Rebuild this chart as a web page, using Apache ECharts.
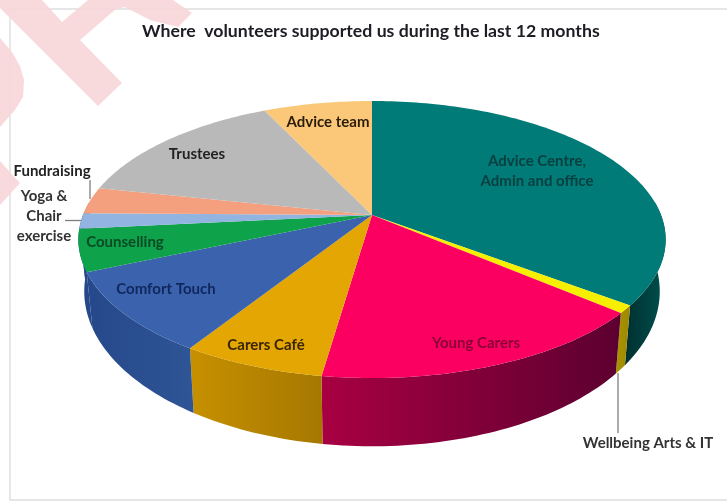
<!DOCTYPE html>
<html>
<head>
<meta charset="utf-8">
<style>html,body{margin:0;padding:0;background:#fff}#c{width:727px;height:502px;filter:blur(0.45px)}</style>
<script src="https://cdn.jsdelivr.net/npm/echarts@6/dist/echarts.min.js"></script>
</head>
<body>
<div id="c"></div>
<script>
var categories = ['Advice Centre, Admin and office','Wellbeing Arts & IT','Young Carers','Carers Café','Comfort Touch','Counselling','Yoga & Chair exercise','Fundraising','Trustees','Advice team'];
var values = [35.3,0.9,16.1,6.7,9.5,4.9,1.8,3.1,14.6,7.1];
var topColors = ['#007b77','#f6f000','#fb0060','#e3a602','#3a62ad','#0ea24a','#92b4e0','#f4a07e','#b9b9b9','#fac878'];
var wallLeft = ['#003030','#a89400','#a80042','#c69000','#25488a','#25488a','#25488a','#b87a60','#8a8a8a','#b89458'];
var wallRight = ['#00504e','#a08800','#5c0030','#a67800','#2f5597','#25488a','#25488a','#b87a60','#8a8a8a','#b89458'];

var total = values.reduce(function(a,b){return a+b;},0);
var cum = [0];
values.forEach(function(v,i){cum.push(cum[i]+v/total*Math.PI*2);});

// perspective model of the pie disc
var CX=372, CY=215, A=289, B=134.2, P=0.177, SHRINK=0.98, BOT_Y=49, BOT_B=150;
function topPt(t){var u=Math.sin(t),v=-Math.cos(t),w=1-P*v;return [CX+A*u/w,CY+B*v/w];}
function botPt(t){var u=Math.sin(t),v=-Math.cos(t),w=1-P*v;return [CX+SHRINK*A*u/w,CY+BOT_Y+BOT_B*v/w];}
function arc(fn,a,b){var n=Math.max(2,Math.ceil((b-a)/0.02)),o=[];for(var i=0;i<=n;i++)o.push(fn(a+(b-a)*i/n));return o;}

function renderWall(params){
  var i=params.dataIndex, lo=Math.PI*0.47, hi=Math.PI*1.53;
  var a=Math.max(cum[i],lo), b=Math.min(cum[i+1],hi);
  if(b<=a) return null;
  var pts=arc(topPt,a,b).concat(arc(botPt,a,b).reverse());
  var xs=pts.map(function(p){return p[0];});
  return {type:'polygon',shape:{points:pts},style:{
    fill:{type:'linear',x:Math.min.apply(null,xs),y:0,x2:Math.max.apply(null,xs),y2:0,global:true,
      colorStops:[{offset:0,color:wallLeft[i]},{offset:1,color:wallRight[i]}]}}};
}
function renderTop(params){
  var i=params.dataIndex;
  var pts=[[CX,CY]].concat(arc(topPt,cum[i],cum[i+1]));
  return {type:'polygon',shape:{points:pts},style:{fill:topColors[i]}};
}
function label(text,x,y,color,size){
  return {type:'text',z:20,silent:true,style:{text:text,x:x,y:y,align:'center',verticalAlign:'middle',textAlign:'center',textVerticalAlign:'middle',
    font:'bold '+(size||15)+'px Lato',fill:color,lineHeight:20}};
}
function leader(x1,y1,x2,y2){return {type:'line',z:19,silent:true,shape:{x1:x1,y1:y1,x2:x2,y2:y2},style:{stroke:'#7f7f7f',lineWidth:1.3}};}
var pink='#f9d7d9';
var chart=echarts.init(document.getElementById('c'));
chart.setOption({
  animation:false,
  backgroundColor:'#ffffff',
  title:{text:'Where  volunteers supported us during the last 12 months',left:142,top:22,
    textStyle:{fontFamily:'Lato',fontWeight:'bold',fontSize:17.7,color:'#1c1c24'},padding:0,itemGap:0},
  graphic:[
    {type:'rect',z:1,shape:{x:10,y:9,width:740,height:491},style:{fill:'none',stroke:'#dedede',lineWidth:1.4}},
    {type:'polygon',z:2,style:{fill:pink,opacity:0.92},shape:{points:[[0,0],[0,8],[98,106],[122,83],[80,40],[116,9],[125,7],[150,20],[178,27],[192,13],[173,0],[88,0],[62,22],[42,0]]}},
    {type:'polygon',z:2,style:{fill:pink,opacity:0.92},shape:{points:[[0,38],[12,52],[20,66],[24,80],[23,97],[15,110],[0,127]]}},
    {type:'polygon',z:2,style:{fill:pink,opacity:0.92},shape:{points:[[0,161],[20,183],[0,205]]}},
    leader(90,180,90,199), leader(65,220.5,81,220.5), leader(618,373,618,433),
    label('Advice team',328,122,'#2a1c08'),
    label('Trustees',197,154,'#222222'),
    label('Fundraising',52,171,'#222222'),
    label('Yoga &',44,196,'#333333'),
    label('Chair',44,216,'#333333'),
    label('exercise',44,236,'#333333'),
    label('Counselling',125,242,'#0a4a25'),
    label('Comfort Touch',166,289,'#10275e'),
    label('Carers Café',266,345,'#3a2506'),
    label('Young Carers',476,343,'#8a0038'),
    label('Advice Centre,',537,161,'#0a3f40'),
    label('Admin and office',537,181,'#0a3f40'),
    label('Wellbeing Arts & IT',648,443,'#333333')
  ],
  series:[
    {type:'custom',coordinateSystem:'none',silent:true,z:5,data:values,renderItem:renderWall},
    {type:'custom',coordinateSystem:'none',silent:true,z:6,data:values,renderItem:renderTop}
  ]
});
</script>
</body>
</html>
